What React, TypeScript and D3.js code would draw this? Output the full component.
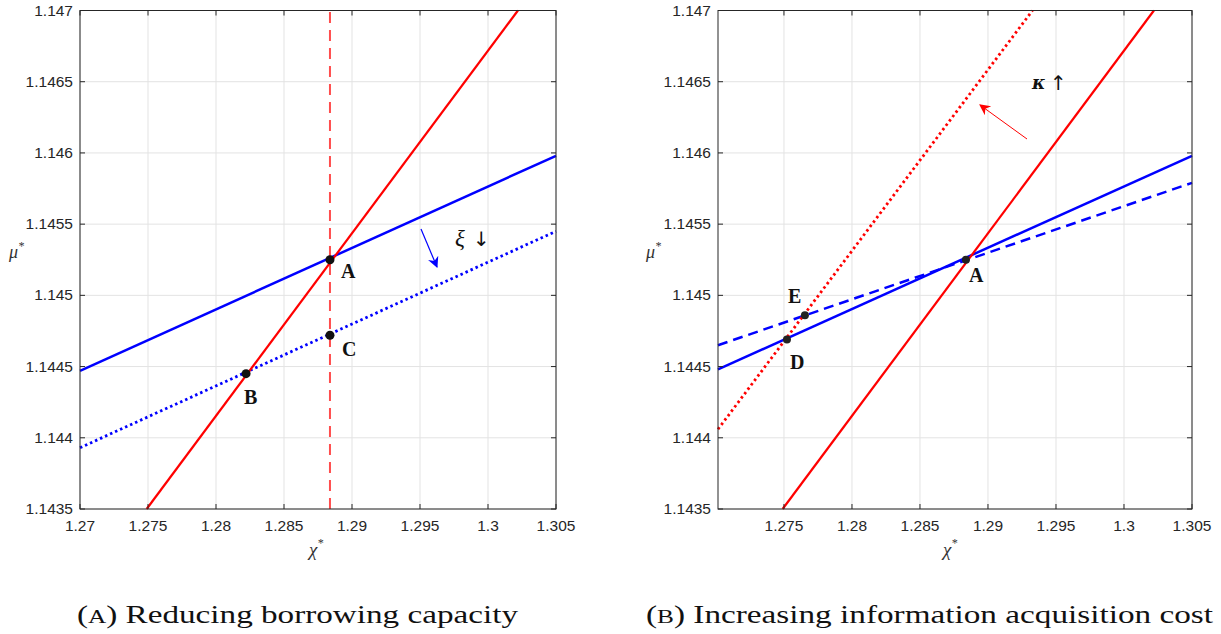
import React from "react";
import * as d3 from "d3";

const xTicks = [1.27, 1.275, 1.28, 1.285, 1.29, 1.295, 1.3, 1.305];
const yTicks = [1.1435, 1.144, 1.1445, 1.145, 1.1455, 1.146, 1.1465, 1.147];

// Panel A
const aBlueSolid: [number, number][] = [[1.27, 1.14447], [1.305, 1.14598]];
const aBlueDotted: [number, number][] = [[1.27, 1.14393], [1.305, 1.14545]];
const redSolid: [number, number][] = [[1.2749, 1.1435], [1.3022, 1.147]];
const aVertical: [number, number][] = [[1.28838, 1.1435], [1.28838, 1.147]];
const aPoints = [
  { name: "A", x: 1.28838, y: 1.14525, dx: 11, dy: 18 },
  { name: "B", x: 1.28221, y: 1.14445, dx: -2, dy: 30 },
  { name: "C", x: 1.28838, y: 1.14472, dx: 12, dy: 21 },
];

// Panel B
const bBlueSolid: [number, number][] = [[1.27015, 1.14448], [1.305, 1.14598]];
const bBlueDashed: [number, number][] = [[1.27015, 1.14465], [1.305, 1.14579]];
const bRedDotted: [number, number][] = [[1.27015, 1.14406], [1.29327, 1.147]];
const bPoints = [
  { name: "A", x: 1.28838, y: 1.14525, dx: 3, dy: 22 },
  { name: "D", x: 1.27522, y: 1.14469, dx: 3, dy: 29 },
  { name: "E", x: 1.27654, y: 1.14486, dx: -17, dy: -12 },
];

const TOP = 10.5;
const BOTTOM = 509;
const tickFmt = (v: number) => String(+v.toFixed(4));
const SANS = "'Liberation Sans', Arial, Helvetica, sans-serif";
const SERIF = "'Liberation Serif', 'Times New Roman', serif";

function Panel({
  xDomain,
  xRange,
  children,
  yLabelX,
  xLabelX,
}: {
  xDomain: [number, number];
  xRange: [number, number];
  children: (x: d3.ScaleLinear<number, number>, y: d3.ScaleLinear<number, number>) => React.ReactNode;
  yLabelX: number;
  xLabelX: number;
}) {
  const x = d3.scaleLinear().domain(xDomain).range(xRange);
  const y = d3.scaleLinear().domain([1.1435, 1.147]).range([BOTTOM, TOP]);
  const xt = xTicks.filter((t) => t >= xDomain[0] - 1e-9 && t <= xDomain[1] + 1e-9);
  const [x0, x1] = xRange;
  const axisColor = "#262626";
  return (
    <g>
      <rect x={x0} y={TOP} width={x1 - x0} height={BOTTOM - TOP} fill="#fff" />
      {xt.map((t) => (
        <line key={"gx" + t} x1={x(t)} x2={x(t)} y1={TOP} y2={BOTTOM} stroke="#e3e3e3" strokeWidth={1} />
      ))}
      {yTicks.map((t) => (
        <line key={"gy" + t} x1={x0} x2={x1} y1={y(t)} y2={y(t)} stroke="#e3e3e3" strokeWidth={1} />
      ))}
      <g>{children(x, y)}</g>
      <rect x={x0} y={TOP} width={x1 - x0} height={BOTTOM - TOP} fill="none" stroke={axisColor} strokeWidth={1} />
      {xt.map((t) => (
        <g key={"tx" + t}>
          <line x1={x(t)} x2={x(t)} y1={BOTTOM} y2={BOTTOM - 5} stroke={axisColor} />
          <line x1={x(t)} x2={x(t)} y1={TOP} y2={TOP + 5} stroke={axisColor} />
          <text x={x(t)} y={BOTTOM + 22} textAnchor="middle" fontFamily={SANS} fontSize={15.5} fill={axisColor}>
            {tickFmt(t)}
          </text>
        </g>
      ))}
      {yTicks.map((t) => (
        <g key={"ty" + t}>
          <line x1={x0} x2={x0 + 5} y1={y(t)} y2={y(t)} stroke={axisColor} />
          <line x1={x1} x2={x1 - 5} y1={y(t)} y2={y(t)} stroke={axisColor} />
          <text x={x0 - 7} y={y(t) + 5} textAnchor="end" fontFamily={SANS} fontSize={15.5} fill={axisColor}>
            {tickFmt(t)}
          </text>
        </g>
      ))}
      <text x={yLabelX} y={258} fontFamily={SERIF} fontStyle="italic" fontSize={18} fill="#333">
        μ<tspan dy={-8} fontSize={12}>*</tspan>
      </text>
      <text x={xLabelX} y={556} fontFamily={SERIF} fontStyle="italic" fontSize={19} fill="#333">
        χ<tspan dy={-9} fontSize={12}>*</tspan>
      </text>
    </g>
  );
}

export default function App() {
  const line = (x: any, y: any) =>
    d3
      .line<[number, number]>()
      .x((d) => x(d[0]))
      .y((d) => y(d[1]));
  const labelFont = { fontFamily: SERIF, fontWeight: 700, fontSize: 20, fill: "#111" } as const;
  return (
    <svg width={1221} height={634} style={{ position: "absolute", left: 0, top: 0, background: "#fff" }}>
      <defs>
        <marker id="arrBlue" viewBox="0 0 10 10" refX="9" refY="5" markerWidth="14" markerHeight="11" orient="auto" markerUnits="userSpaceOnUse">
          <path d="M0,0 L10,5 L0,10 L3,5 Z" fill="#0000ff" />
        </marker>
        <marker id="arrRed" viewBox="0 0 10 10" refX="9" refY="5" markerWidth="14" markerHeight="11" orient="auto" markerUnits="userSpaceOnUse">
          <path d="M0,0 L10,5 L0,10 L3,5 Z" fill="#ff0000" />
        </marker>
      </defs>
      <rect width={1221} height={634} fill="#fff" />
      <Panel xDomain={[1.27, 1.305]} xRange={[80, 556]} yLabelX={9} xLabelX={309}>
        {(x, y) => {
          const l = line(x, y);
          return (
            <g>
              <path d={l(aVertical)!} stroke="#ff4d4d" strokeWidth={2} strokeDasharray="11,7" fill="none" />
              <path d={l(aBlueSolid)!} stroke="#0000ff" strokeWidth={2.5} fill="none" />
              <path d={l(aBlueDotted)!} stroke="#0000ff" strokeWidth={2.8} strokeDasharray="2.5,3" fill="none" />
              <path d={l(redSolid)!} stroke="#ff0000" strokeWidth={2.2} fill="none" />
              {aPoints.map((p) => (
                <g key={p.name}>
                  <circle cx={x(p.x)} cy={y(p.y)} r={4.5} fill="#111" />
                  <text x={x(p.x) + p.dx} y={y(p.y) + p.dy} {...labelFont}>
                    {p.name}
                  </text>
                </g>
              ))}
              <line x1={421} y1={229} x2={437} y2={267} stroke="#0000ff" strokeWidth={1.2} markerEnd="url(#arrBlue)" />
              <text x={455} y={246} fontFamily={SERIF} fontStyle="italic" fontSize={23} fill="#111">
                ξ
              </text>
              <text x={473} y={246} fontFamily="'DejaVu Sans', sans-serif" fontSize={20} fill="#111">
                ↓
              </text>
            </g>
          );
        }}
      </Panel>
      <Panel xDomain={[1.27015, 1.305]} xRange={[718, 1192]} yLabelX={646} xLabelX={943}>
        {(x, y) => {
          const l = line(x, y);
          return (
            <g>
              <path d={l(bBlueDashed)!} stroke="#0000ff" strokeWidth={2.5} strokeDasharray="10,6" fill="none" />
              <path d={l(bBlueSolid)!} stroke="#0000ff" strokeWidth={2.5} fill="none" />
              <path d={l(bRedDotted)!} stroke="#ff0000" strokeWidth={2.8} strokeDasharray="2.5,3" fill="none" />
              <path d={l(redSolid)!} stroke="#ff0000" strokeWidth={2.2} fill="none" />
              {bPoints.map((p) => (
                <g key={p.name}>
                  <circle cx={x(p.x)} cy={y(p.y)} r={4} fill="#222" />
                  <text x={x(p.x) + p.dx} y={y(p.y) + p.dy} {...labelFont}>
                    {p.name}
                  </text>
                </g>
              ))}
              <line x1={1027} y1={139} x2={980} y2={105} stroke="#ff0000" strokeWidth={1} markerEnd="url(#arrRed)" />
              <text x={1032} y={89} fontFamily="'DejaVu Serif', serif" fontStyle="italic" fontWeight={700} fontSize={18} fill="#111">
                κ
              </text>
              <text x={1050} y={90} fontFamily="'DejaVu Sans', sans-serif" fontSize={20} fill="#111">
                ↑
              </text>
            </g>
          );
        }}
      </Panel>
      <text x={77} y={623} fontFamily={SERIF} fontSize={25} fill="#111" textLength={441} lengthAdjust="spacingAndGlyphs">
        (<tspan fontSize={19}>A</tspan>) Reducing borrowing capacity
      </text>
      <text x={646} y={623} fontFamily={SERIF} fontSize={25} fill="#111" textLength={567} lengthAdjust="spacingAndGlyphs">
        (<tspan fontSize={19}>B</tspan>) Increasing information acquisition cost
      </text>
    </svg>
  );
}
